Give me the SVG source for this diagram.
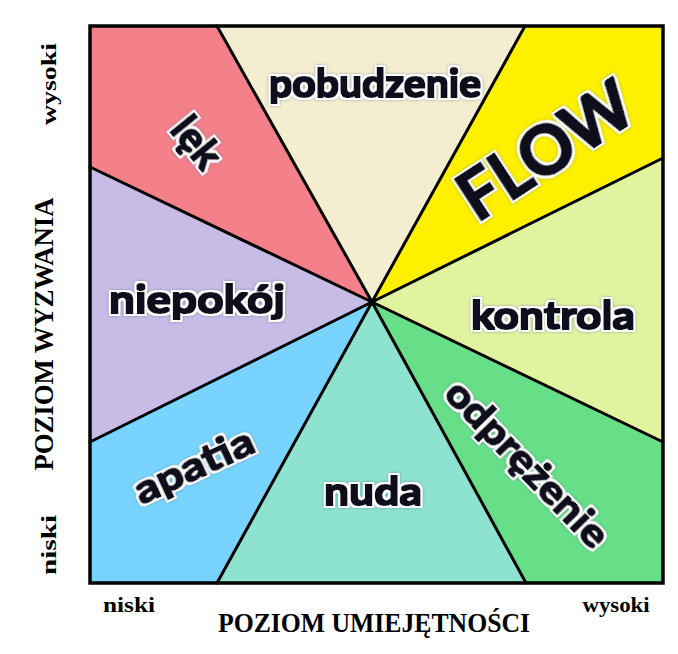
<svg xmlns="http://www.w3.org/2000/svg" width="678" height="654" viewBox="0 0 678 654">
<style>
.lbl{font-family:Lato,"Open Sans","Liberation Sans",sans-serif;font-weight:bold;fill:#0a0f1e;text-anchor:middle}
.ax{font-family:"Liberation Serif","DejaVu Serif",serif;font-weight:bold;fill:#000;text-anchor:middle}
.ln{stroke:#000;stroke-width:3;fill:none;stroke-linecap:round}
</style>
<defs>
<filter id="glow" x="-15%" y="-25%" width="130%" height="150%">
<feMorphology in="SourceAlpha" operator="dilate" radius="0.8" result="body"/>
<feMorphology in="SourceAlpha" operator="dilate" radius="2.6" result="outer"/>
<feGaussianBlur in="outer" stdDeviation="1.4" result="ob"/>
<feFlood flood-color="#50688c" flood-opacity="0.55"/>
<feComposite in2="ob" operator="in" result="g"/>
<feFlood flood-color="#ffffff"/>
<feComposite in2="outer" operator="in" result="wo"/>
<feFlood flood-color="#0a0f1e"/>
<feComposite in2="body" operator="in" result="d"/>
<feMerge><feMergeNode in="g"/><feMergeNode in="wo"/><feMergeNode in="d"/></feMerge>
</filter>
</defs>
<rect width="678" height="654" fill="#fff"/>
<g id="lek">
<polygon points="90,26 217,26 372,302 90,167" fill="#F4808A"/>
<text class="lbl" filter="url(#glow)" font-size="41" transform="translate(196,143) rotate(51)" y="13">lęk</text>
</g>
<g id="pobudzenie">
<polygon points="217,26 525,26 372,302" fill="#F5EDCF"/>
<text class="lbl" filter="url(#glow)" font-size="39" x="375" y="97" textLength="212" lengthAdjust="spacingAndGlyphs">pobudzenie</text>
</g>
<g id="flow">
<polygon points="525,26 663,26 663,158 372,302" fill="#FFF000"/>
<text class="lbl" filter="url(#glow)" font-size="67" transform="translate(546,151) rotate(-33)" y="23">FLOW</text>
</g>
<g id="kontrola">
<polygon points="663,158 663,442 372,302" fill="#E2F3A0"/>
<text class="lbl" filter="url(#glow)" font-size="39" x="553" y="329" textLength="164" lengthAdjust="spacingAndGlyphs">kontrola</text>
</g>
<g id="odprezenie">
<polygon points="663,442 663,583 526,583 372,302" fill="#66DF88"/>
<text class="lbl" filter="url(#glow)" font-size="39" transform="translate(527,464) rotate(46)" y="13" textLength="216" lengthAdjust="spacingAndGlyphs">odprężenie</text>
</g>
<g id="nuda">
<polygon points="526,583 217,583 372,302" fill="#8DE3CF"/>
<text class="lbl" filter="url(#glow)" font-size="39" x="373" y="505" textLength="98" lengthAdjust="spacingAndGlyphs">nuda</text>
</g>
<g id="apatia">
<polygon points="217,583 90,583 90,442 372,302" fill="#78D4FF"/>
<text class="lbl" filter="url(#glow)" font-size="39" transform="translate(194,466) rotate(-25)" y="13" textLength="128" lengthAdjust="spacingAndGlyphs">apatia</text>
</g>
<g id="niepokoj">
<polygon points="90,442 90,167 372,302" fill="#C6BCE6"/>
<text class="lbl" filter="url(#glow)" font-size="39" x="197" y="313" textLength="176" lengthAdjust="spacingAndGlyphs">niepokój</text>
</g>
<g id="connectors">
<line class="ln" x1="372" y1="302" x2="217" y2="26"/>
<line class="ln" x1="372" y1="302" x2="525" y2="26"/>
<line class="ln" x1="372" y1="302" x2="663" y2="158"/>
<line class="ln" x1="372" y1="302" x2="663" y2="442"/>
<line class="ln" x1="372" y1="302" x2="526" y2="583"/>
<line class="ln" x1="372" y1="302" x2="217" y2="583"/>
<line class="ln" x1="372" y1="302" x2="90" y2="442"/>
<line class="ln" x1="372" y1="302" x2="90" y2="167"/>
<rect x="90" y="26" width="573" height="557" fill="none" stroke="#000" stroke-width="3.5"/>
</g>
<g id="axes">
<text class="ax" font-size="20" x="129" y="612" textLength="52" lengthAdjust="spacingAndGlyphs">niski</text>
<text class="ax" font-size="20" x="616" y="612" textLength="67" lengthAdjust="spacingAndGlyphs">wysoki</text>
<text class="ax" font-size="27" x="374" y="632" textLength="312" lengthAdjust="spacingAndGlyphs">POZIOM UMIEJĘTNOŚCI</text>
<text class="ax" font-size="21" transform="translate(56,545) rotate(-90)" textLength="60" lengthAdjust="spacingAndGlyphs">niski</text>
<text class="ax" font-size="27" transform="translate(53,334) rotate(-90)" textLength="273" lengthAdjust="spacingAndGlyphs">POZIOM WYZWANIA</text>
<text class="ax" font-size="21" transform="translate(56,84) rotate(-90)" textLength="82" lengthAdjust="spacingAndGlyphs">wysoki</text>
</g>
</svg>
